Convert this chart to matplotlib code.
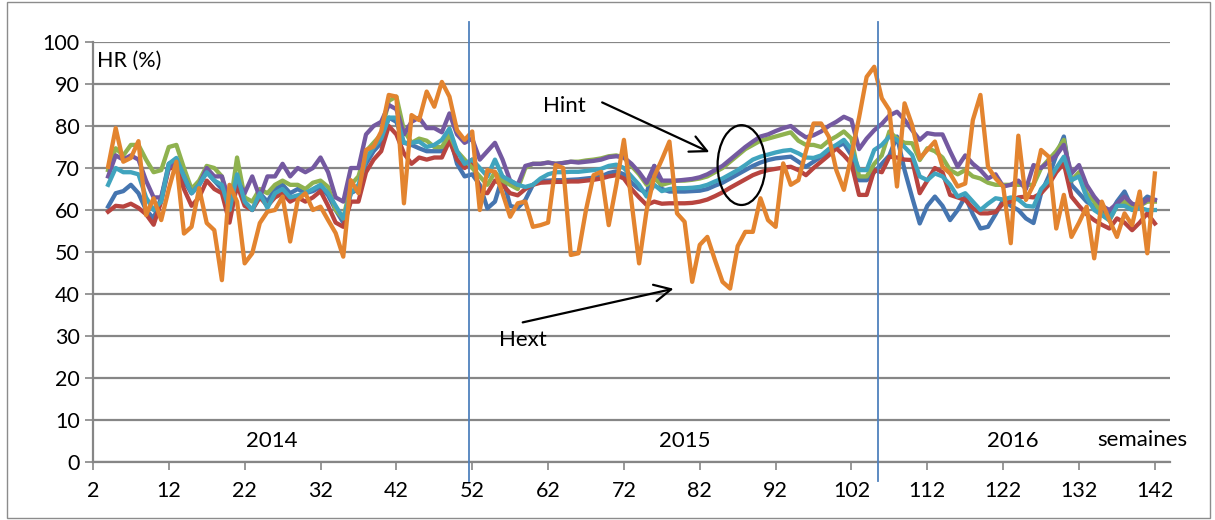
import numpy as np
import matplotlib
matplotlib.use("Agg")
from matplotlib import pyplot as plt
from matplotlib.patches import Ellipse, Rectangle

plt.rcParams['font.family'] = ['Lato', 'DejaVu Sans']

# weeks 4 .. 142
weeks = np.arange(4, 143)

blue = [60.8, 64, 64.5, 66, 64, 60, 58, 63, 71, 72,
        67, 64, 66, 69, 67, 65, 59, 68, 62, 60,
        64, 62, 65, 66, 64, 65, 64, 64.5, 65.5, 63.5,
        60, 57, 64, 65, 71, 74, 76, 82, 81, 76,
        75.5, 74.7, 74, 74, 74, 78, 71, 68, 68.5, 66,
        60.4, 62, 68, 61, 60.5, 62.4, 66, 67, 67, 67.1,
        67.1, 67.2, 67.3, 67.5, 67.7, 68, 68.8, 69.2, 68.5, 66.5,
        65, 64, 70.5, 65, 64.4, 64.4, 64.4, 64.5, 64.6, 65,
        65.8, 66.5, 67.5, 68.5, 69.5, 70.5, 71.3, 71.9, 72.3, 72.5,
        72.7, 71.5, 70.3, 71.5, 72.7, 73.9, 75, 75.9, 73, 67.1,
        67.1, 69, 71, 73, 77.5, 69.5, 63, 56.8, 61, 63.2,
        61, 57.6, 60, 63.2, 59, 55.6, 56, 59, 62.4, 61,
        60, 58, 56.9, 64, 68, 73, 77.5, 66, 64, 62,
        60.8, 59.8, 58.8, 62, 64.4, 60.5, 61.5, 63.2, 62.4]

red = [59.6, 61, 60.8, 61.5, 60.5, 59, 56.5, 62, 70, 70,
       65, 61, 63, 67, 65, 64, 57, 66, 61, 60,
       63, 61, 63, 64, 62, 63, 62, 63, 64.5, 61,
       57, 56, 62, 62, 69, 72, 74, 80, 78, 73.5,
       71, 72.5, 72, 72.5, 72.5, 76.5, 72, 70, 72, 64.5,
       64, 67, 66, 64, 63.5, 65, 66, 66.5, 66.6, 66.7,
       66.7, 66.8, 66.8, 67, 67.2, 67.5, 68, 68.3, 67.5, 65,
       63, 61.2, 62, 61.5, 61.6, 61.6, 61.6, 61.7, 62, 62.5,
       63.3, 64.2, 65.3, 66.3, 67.3, 68.3, 69, 69.5, 69.8, 70.1,
       70.3, 69.5, 68.3, 70, 71.5, 73, 74.7, 73, 71, 63.6,
       63.6, 69.5, 69, 72.7, 72.5, 72, 71.9, 64, 67, 70,
       69, 63.6, 63, 62.4, 60.5, 59.2, 59.2, 59.5, 61.6, 62,
       63, 63.2, 63, 64, 66, 69, 71.1, 63.2, 61, 59,
       57.6, 56.5, 55.6, 58, 57, 55.2, 57, 59.2, 56.8]

green = [69.5, 74.7, 73, 75.5, 75.5, 72, 69, 69.5, 75, 75.5,
         70, 65, 67, 70.5, 70, 68, 60, 72.5, 63, 62,
         65, 64, 66, 67, 66, 66, 65, 66.5, 67, 65.5,
         60, 58, 66, 68, 74, 76, 78, 86, 87, 79,
         76, 77, 76.5, 75, 75, 78, 74, 72, 70, 68,
         66, 69, 67, 66, 65, 70, 71, 71, 71.3, 71,
         71.2, 71.5, 71.5, 71.8, 72, 72.3, 72.8, 73, 72.5, 70.5,
         68.5, 66, 67.5, 66, 66.5, 67, 67, 67.2, 67.5, 68,
         69, 70, 71.5, 73, 74.5, 75.5, 76.5, 77, 77.5, 78,
         78.5, 76.5, 75.5, 75.5, 75, 76.5, 77.5, 78.7, 77, 68,
         68, 71, 73, 78.7, 77, 76, 75.9, 71.9, 74.7, 74,
         72.5, 69.5, 68.5, 69.5, 68, 67.5, 66.5, 66, 66, 66,
         66, 66, 66, 70, 72, 74, 76.7, 67, 69, 64,
         62, 59, 57.5, 61, 62, 60.5, 61, 62, 62]

purple = [68, 73, 72, 73, 72, 67, 63, 63, 70, 72,
          68, 64, 66, 70, 68, 68, 62, 67, 64, 68,
          63, 68, 68, 71, 68, 70, 69, 70, 72.5, 69,
          63, 62, 70, 70, 78, 80, 81, 85, 84, 78,
          81, 82, 79.5, 79.5, 78.5, 83, 78, 76, 77, 72,
          74, 76, 72, 67, 66, 70.5, 71, 71, 71.3, 71,
          71.2, 71.5, 71.3, 71.5, 71.7, 72, 72.6, 72.8, 72.5, 71,
          69, 66.5, 70.5, 67, 67, 67, 67.2, 67.4, 67.8, 68.5,
          69.5, 70.5, 72, 73.5, 75, 76.3, 77.5, 78, 78.8, 79.5,
          80, 78.5, 77.3, 77.8, 78.7, 80, 81, 82.2, 81.4, 74.5,
          77, 79, 80.5, 82.5, 83.4, 81.5, 79, 76.7, 78.3, 78,
          78, 74, 70.3, 73, 71, 69.5, 67.5, 68.5, 65.6, 66,
          67, 65, 70.7, 70, 71.5, 73, 75.5, 68.7, 70.7, 66,
          63.2, 61, 60, 61.5, 63.2, 61.5, 61, 62.5, 62.4]

teal = [66, 70, 69, 69, 68.5, 63, 60, 62, 71, 72.4,
        68, 64, 66, 69, 67, 66, 60, 68.5, 62, 60,
        64, 60.5, 64, 65, 63, 63.5, 64, 65, 66, 64,
        61, 58, 64, 66, 72, 75, 77, 82, 82, 76,
        76, 76.3, 75, 75.5, 76.7, 79.4, 74, 71, 72, 70,
        68, 72, 68, 67, 66, 65.5, 66, 67.5, 68.5, 69,
        69, 69.1, 69.1, 69.3, 69.5, 69.8, 70.5, 70.8, 70, 68,
        66, 63.2, 66, 64.5, 65, 65.2, 65.2, 65.3, 65.5, 66,
        66.8, 67.5, 68.5, 69.5, 70.7, 72, 72.7, 73.2, 73.7, 74.1,
        74.3, 73.5, 72.5, 72.4, 73, 74.5, 75.5, 76.7, 74.5, 69.5,
        69.5, 74.3, 75.5, 77.5, 76.7, 75, 73.1, 68, 67.1, 68.7,
        68, 66, 63.2, 64, 62, 60, 61.5, 62.8, 62.5, 63,
        62.5, 61, 60.8, 65, 67, 70, 72.7, 67.1, 68, 63,
        60, 58.8, 57.6, 61, 61, 60, 60.5, 60, 60]

# Hext (outdoor)
orange = [70.3, 79.5, 71.5, 72.4, 76.4, 58.8, 62.8, 57.6, 65, 71.5,
          54.4, 56, 65.2, 56.9, 55.2, 43.3, 66, 62, 47.3, 49.7,
          56.9, 59.6, 60, 63.2, 52.5, 62.4, 64, 60, 60.8, 57.6,
          54.5, 48.9, 67.1, 64, 74.3, 75.1, 78.7, 87.4, 87, 61.6,
          82.6, 81.4, 88.2, 84.6, 90.5, 87, 79, 76.7, 78.7, 60,
          69.5, 69.1, 64, 58.4, 61.6, 62, 56, 56.4, 57, 70.7,
          70, 49.3, 49.7, 60, 68.3, 69.1, 56.4, 66, 76.7, 62,
          47.3, 60, 68, 72, 76.3, 59.2, 57.2, 42.9, 51.7, 53.6,
          48.1, 42.9, 41.3, 51.4, 54.8, 54.8, 62.8, 57.6, 56, 71.1,
          66, 67.1, 74, 80.6, 80.6, 77.5, 69.5, 64.8, 73, 82,
          91.7, 94.1, 86.6, 83.8, 65.6, 85.4, 80.2, 72.3, 74.3, 76.3,
          70.3, 68.7, 65.6, 66.3, 81.4, 87.4, 70.3, 67.5, 65.6, 52.1,
          77.7, 62.4, 66, 74.3, 72.7, 55.6, 63.6, 53.6, 57, 60.8,
          48.5, 62, 57.6, 53.6, 59.2, 56.4, 64.4, 49.7, 68.7]

series = [(blue, '#4575B0'), (red, '#B8443F'), (green, '#8FB24F'),
          (purple, '#7459A0'), (teal, '#40A4BE'), (orange, '#E3842F')]

year_labels = ['2014', '2015', '2016']
year_pos = [25.6, 80, 123.3]
year_breaks = [51.6, 105.5]

fig = plt.figure(figsize=(12.15, 5.2), dpi=100)
ax = fig.add_axes([0.0765, 0.1115, 0.8865, 0.8077])

for vals, col in series:
    ax.plot(weeks, vals, color=col, lw=3.1, solid_joinstyle='round')

for xb in year_breaks:
    ax.plot([xb, xb], [-4.5, 104.8], color='#4F81BD', lw=1.3, clip_on=False, zorder=5)

ax.set_xlim(2, 144)
ax.set_ylim(0, 100)
ax.set_xticks(np.arange(2, 143, 10))
ax.set_yticks(np.arange(0, 101, 10))
ax.tick_params(axis='both', labelsize=15.5, color='#868686', length=6, width=1.2)
ax.tick_params(axis='x', pad=8)
ax.grid(axis='y', color='#868686', lw=1.6)
ax.set_axisbelow(True)
for s in ['top', 'right']:
    ax.spines[s].set_visible(False)
for s in ['left', 'bottom']:
    ax.spines[s].set_color('#868686')
    ax.spines[s].set_linewidth(1.6)

ax.text(2.5, 95.5, 'HR (%)', fontsize=15.5, ha='left', va='center')
for lab, xp in zip(year_labels, year_pos):
    ax.text(xp, 5.0, lab, fontsize=16, ha='center', va='center')
ax.text(140.3, 5.2, 'semaines', fontsize=16, ha='center', va='center')

ax.text(64.2, 84.8, 'Hint', fontsize=16, ha='center', va='center')
ax.text(58.7, 29.0, 'Hext', fontsize=16, ha='center', va='center')
ax.annotate('', xy=(83.6, 73.5), xytext=(68.8, 85.9),
            arrowprops=dict(arrowstyle='->', color='black', lw=1.6, mutation_scale=30))
ax.annotate('', xy=(78.9, 41.4), xytext=(58.3, 33.1),
            arrowprops=dict(arrowstyle='->', color='black', lw=1.6, mutation_scale=30))
ax.add_patch(Ellipse((87.5, 70.7), 6.3, 19, fill=False, edgecolor='black', lw=1.6, zorder=6))

fig.patches.append(Rectangle((0.006, 0.003), 0.99, 0.994, transform=fig.transFigure,
                             fill=False, edgecolor='#8c8c8c', lw=1))

fig.savefig('out.png', dpi=100)
